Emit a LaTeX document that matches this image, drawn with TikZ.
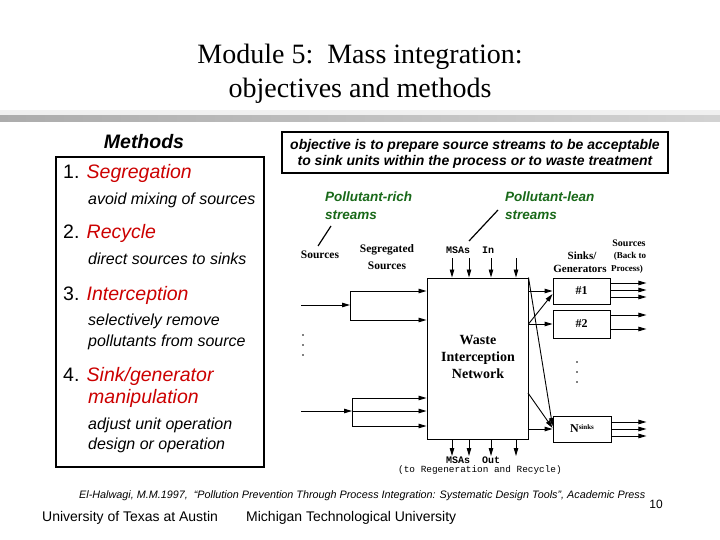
\documentclass[tikz,border=0pt]{standalone}
\usepackage{fontspec}
\setmainfont{Liberation Sans}
\newfontfamily\tnr{Liberation Serif}
\newfontfamily\cour{Liberation Mono}
\usetikzlibrary{arrows.meta}
\definecolor{mred}{RGB}{204,0,0}
\definecolor{mgreen}{RGB}{25,105,25}
\begin{document}
\begin{tikzpicture}[x=1pt,y=-1pt,
  item/.style={font=\fontsize{19.5}{22}\selectfont, anchor=base west, inner sep=0},
  redit/.style={font=\fontsize{19.5}{22}\selectfont\itshape, text=mred, anchor=base west, inner sep=0},
  sub/.style={font=\fontsize{16}{18}\selectfont\itshape, anchor=base west, inner sep=0},
  grn/.style={font=\fontsize{13.5}{15}\selectfont\bfseries\itshape, text=mgreen, anchor=base west, inner sep=0},
  objt/.style={font=\fontsize{14}{15}\selectfont\bfseries\itshape, anchor=base, inner sep=0},
  dfont/.style={font=\tnr\bfseries\fontsize{11.5}{13}\selectfont, inner sep=0},
  sfont/.style={font=\tnr\bfseries\fontsize{9}{10}\selectfont, inner sep=0},
  tt/.style={font=\cour\bfseries\fontsize{10}{11}\selectfont, inner sep=0, anchor=base west},
  unit/.style={draw, line width=0.9pt, inner sep=0, font=\tnr\bfseries\fontsize{12}{13}\selectfont},
  ln/.style={line width=0.9pt},
  arr/.style={line width=0.9pt, -{Triangle[length=8pt,width=4.5pt]}},
  ptr/.style={line width=1.2pt},
  dot/.style={fill=black, circle, inner sep=0, minimum size=1.8pt}
]
\useasboundingbox (0,0) rectangle (720,540);
\fill[white] (0,0) rectangle (720,540);

% title
\node[font=\tnr\fontsize{28}{30}\selectfont, anchor=base, inner sep=0] (t1) at (360,64) {Module 5:\ \ Mass integration:};
\node[font=\tnr\fontsize{28}{30}\selectfont, anchor=base, inner sep=0] (t2) at (360,98) {objectives and methods};

% bar
\fill[gray!12] (0,110) rectangle (720,116);
\shade[left color=gray!65, right color=gray!35] (0,116) rectangle (720,122);

% methods panel
\node[font=\fontsize{19.5}{22}\selectfont\bfseries\itshape, anchor=base, inner sep=0] (meth) at (144,149) {Methods};
\node[draw, line width=1.5pt, minimum width=208pt, minimum height=310pt, inner sep=0] (mbox) at (160,312) {};
\node[item] (i1) at (63,179) {1. \textcolor{mred}{\itshape Segregation}};
\node[sub] (d1) at (88,205) {avoid mixing of sources};
\node[item] (i2) at (63,239) {2. \textcolor{mred}{\itshape Recycle}};
\node[sub] (d2) at (88,264) {direct sources to sinks};
\node[item] (i3) at (63,300) {3. \textcolor{mred}{\itshape Interception}};
\node[sub] (d3a) at (88,325) {selectively remove};
\node[sub] (d3b) at (88,346) {pollutants from source};
\node[item] (i4) at (63,381) {4. \textcolor{mred}{\itshape Sink/generator}};
\node[redit] (i4b) at (88,403) {manipulation};
\node[sub] (d4a) at (88,429) {adjust unit operation};
\node[sub] (d4b) at (88,449) {design or operation};

% objective box
\node[draw, line width=2pt, minimum width=386pt, minimum height=41pt, inner sep=0] (obj) at (475,152.5) {};
\node[objt] (o1) at (475,149.5) {objective is to prepare source streams to be acceptable};
\node[objt] (o2) at (475,166) {to sink units within the process or to waste treatment};

% green labels
\node[grn] (g1a) at (325,202) {Pollutant-rich};
\node[grn] (g1b) at (325,219) {streams};
\node[grn] (g2a) at (505,202) {Pollutant-lean};
\node[grn] (g2b) at (505,219) {streams};
\coordinate (pa1) at (331,226);
\coordinate (pa2) at (318,246);
\coordinate (pb1) at (498,210);
\coordinate (pb2) at (469,241);
\draw[ptr] (pa1) -- (pa2);
\draw[ptr] (pb1) -- (pb2);

% diagram labels
\node[dfont] (srcl) at (320,255) {Sources};
\node[dfont, align=center, font=\tnr\bfseries\fontsize{11.5}{17}\selectfont] (segl) at (387,257) {Segregated\\Sources};
\node[tt] (msain) at (446,253) {MSAs\ \ In};
\node[tt] (msaout) at (446,463) {MSAs\ \ Out};
\node[font=\cour\fontsize{9.4}{10}\selectfont, anchor=base, inner sep=0] (regen) at (480,472) {(to Regeneration and Recycle)};

% main box
\node[draw, line width=1pt, minimum width=101pt, minimum height=161pt, inner sep=0] (wn) at (477.5,358.5) {};
\node[align=center, font=\tnr\bfseries\fontsize{14}{17}\selectfont, inner sep=0] (wnt) at (478,357) {Waste\\Interception\\Network};

% sources in
\coordinate (s1) at (301,305);
\coordinate (j1) at (350,305);
\coordinate (j1a) at (350,291);
\coordinate (j1b) at (350,320);
\draw[arr] (s1) -- (j1);
\draw[ln] (j1a) -- (j1b);
\draw[arr] (j1a) -- (j1a -| wn.west);
\draw[arr] (j1b) -- (j1b -| wn.west);

\coordinate (s2) at (301,411);
\coordinate (j2) at (352,411);
\coordinate (j2a) at (352,398);
\coordinate (j2b) at (352,426);
\draw[arr] (s2) -- (j2);
\draw[ln] (j2a) -- (j2b);
\draw[arr] (j2a) -- (j2a -| wn.west);
\draw[arr] (j2) -- (j2 -| wn.west);
\draw[arr] (j2b) -- (j2b -| wn.west);

\node[dot] (ld1) at (303,335) {};
\node[dot] (ld2) at (303,345) {};
\node[dot] (ld3) at (303,355) {};

% MSA in/out
\foreach \i/\x in {1/452,2/469,3/491,4/516}{
  \coordinate (mi\i) at (\x,258);
  \coordinate (mo\i) at (\x,456);
  \draw[arr] (mi\i) -- (mi\i |- wn.north);
  \draw[arr] (mo\i |- wn.south) -- (mo\i);
}

% sinks
\node[unit, minimum width=57pt, minimum height=26pt] (k1) at (581.5,291) {\#1};
\node[unit, minimum width=57pt, minimum height=28pt] (k2) at (581.5,324) {\#2};
\node[unit, minimum width=58pt, minimum height=26pt] (kN) at (582,429) {N\raisebox{3pt}{\fontsize{7}{8}\selectfont sinks}};
\node[dot] (rd1) at (577,362) {};
\node[dot] (rd2) at (577,372) {};
\node[dot] (rd3) at (577,382) {};

\node[dfont, font=\tnr\bfseries\fontsize{11}{12}\selectfont] (sinksl) at (582,256) {Sinks/};
\node[dfont, font=\tnr\bfseries\fontsize{11}{12}\selectfont] (genl) at (580,269) {Generators};
\node[dfont, font=\tnr\bfseries\fontsize{10}{11}\selectfont] (srcr) at (629,243) {Sources};
\node[sfont] (backl) at (630,256) {(Back to};
\node[sfont] (procl) at (627,269) {Process)};

% network to sinks
\coordinate (dd) at (528,393);
\draw[arr] (wn.east |- k1.west) -- (k1.west);
\draw[arr] (wn.east |- k2.west) -- (k2.west);
\draw[arr] (wn.east |- k2.west) -- ([yshift=-3pt]k1.west);
\draw[arr] (wn.north east) -- ([yshift=3pt]kN.west);
\draw[arr] (dd) -- ([yshift=1pt]kN.west);
\draw[arr] (wn.east |- kN.west) -- (kN.west);

% sink outputs
\draw[arr] ([yshift=8pt]k1.east) -- ++(36,0);
\draw[arr] ([yshift=1pt]k1.east) -- ++(36,0);
\draw[arr] ([yshift=-6pt]k1.east) -- ++(36,0);
\draw[arr] ([yshift=9pt]k2.east) -- ++(36,0);
\draw[arr] ([yshift=-5pt]k2.east) -- ++(36,0);
\draw[arr] ([yshift=7pt]kN.east) -- ++(35,0);
\draw[arr] ([yshift=0pt]kN.east) -- ++(35,0);
\draw[arr] ([yshift=-7pt]kN.east) -- ++(35,0);

% footer
\node[font=\fontsize{10.8}{12}\selectfont\itshape, anchor=base west, inner sep=0] (cite) at (79,498) {El-Halwagi, M.M.1997,\ \ “Pollution Prevention Through Process Integration: Systematic Design Tools”, Academic Press};
\node[font=\fontsize{12}{12}\selectfont, anchor=base, inner sep=0] (pg) at (656,508) {10};
\node[font=\fontsize{14}{15}\selectfont, anchor=base west, inner sep=0] (ut) at (42,521) {University of Texas at Austin};
\node[font=\fontsize{14}{15}\selectfont, anchor=base west, inner sep=0] (mtu) at (246,521) {Michigan Technological University};
\end{tikzpicture}
\end{document}
